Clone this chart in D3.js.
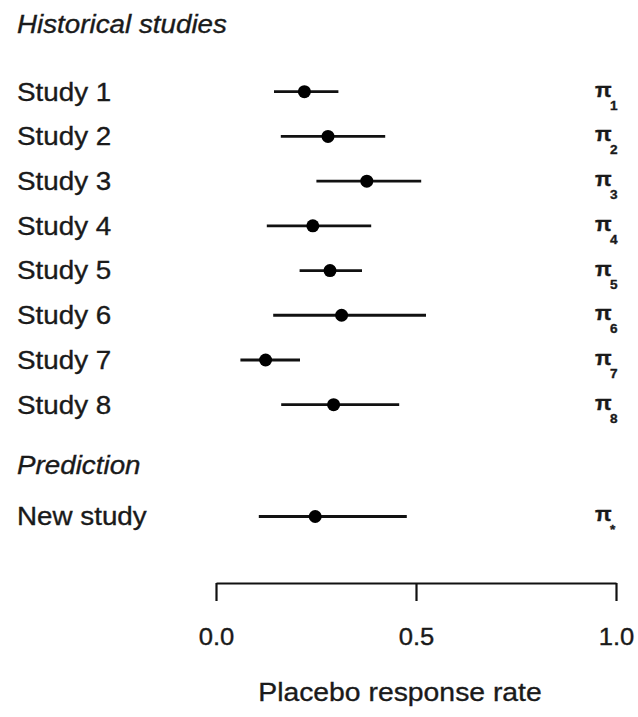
<!DOCTYPE html>
<html>
<head>
<meta charset="utf-8">
<script src="https://cdn.jsdelivr.net/npm/d3@7"></script>
<style>
  html, body { margin: 0; padding: 0; background: #fff; }
  svg text { font-family: "Liberation Sans", Arial, sans-serif; fill: #1a1a1a; stroke: #1a1a1a; stroke-width: 0.35; }
</style>
</head>
<body>
<svg id="forest"></svg>
<script>
// --- data ---
const studies = ["Study 1", "Study 2", "Study 3", "Study 4", "Study 5", "Study 6", "Study 7", "Study 8"];
const estimates = [0.221, 0.280, 0.377, 0.242, 0.285, 0.314, 0.124, 0.294];
const lower = [0.145, 0.162, 0.251, 0.127, 0.209, 0.143, 0.061, 0.163];
const upper = [0.306, 0.423, 0.513, 0.388, 0.365, 0.525, 0.210, 0.458];
const subscripts = ["1", "2", "3", "4", "5", "6", "7", "8"];

const newStudy = "New study";
const newEstimate = 0.248;
const newLower = 0.107;
const newUpper = 0.477;
const newSubscript = "*";

const xTicks = [0, 0.5, 1];

// --- layout ---
const width = 638;
const height = 717;
const stretch = 1.09; // text in the picture is a bit wider than tall

const svg = d3.select("#forest")
    .attr("width", width)
    .attr("height", height)
    .attr("viewBox", [0, 0, width, height]);

const x = d3.scaleLinear().domain([0, 1]).range([216, 616]);
// row index -> vertical position
const y = d3.scaleLinear().domain([0, 7]).range([91.7, 404.7]);

const rows = studies.map((s, i) => ({
    label: s, est: estimates[i], lo: lower[i], hi: upper[i], sub: subscripts[i], row: i
}));
rows.push({ label: newStudy, est: newEstimate, lo: newLower, hi: newUpper, sub: newSubscript, row: 9.5 });

function addText(g, tx, ty, txt, size, opts = {}) {
    return g.append("text")
        .attr("transform", `translate(${tx},${ty}) scale(${stretch},1)`)
        .attr("text-anchor", opts.anchor || "start")
        .attr("font-size", size)
        .attr("font-style", opts.italic ? "italic" : null)
        .attr("font-weight", opts.bold ? "bold" : null)
        .text(txt);
}

// headers
addText(svg, 17, y(-1.5) + 8.5, "Historical studies", 25.5, { italic: true });
addText(svg, 17, y(8.35) + 8.5, "Prediction", 25.5, { italic: true });

// rows
const rowG = svg.append("g").selectAll("g")
    .data(rows)
    .join("g");

rowG.each(function(d) {
    const g = d3.select(this);
    addText(g, 17, y(d.row) + 8.8, d.label, 25.5);

    g.append("line")
        .attr("x1", x(d.lo))
        .attr("x2", x(d.hi))
        .attr("y1", y(d.row))
        .attr("y2", y(d.row))
        .attr("stroke", "#111")
        .attr("stroke-width", 2.8);

    g.append("circle")
        .attr("cx", x(d.est))
        .attr("cy", y(d.row))
        .attr("r", 6.5)
        .attr("fill", "#000");

    // pi labels with subscript
    addText(g, 595, y(d.row) + 5, "\u03C0", 20, { bold: true });
    addText(g, 610, y(d.row) + 18, d.sub, 12.5, { bold: true });
});

// x axis
const axis = d3.axisBottom(x)
    .tickValues(xTicks)
    .tickFormat(d3.format(".1f"))
    .tickSizeInner(18)
    .tickSizeOuter(0)
    .tickPadding(27);

const axisG = svg.append("g")
    .attr("transform", "translate(0,583)")
    .call(axis);

axisG.select(".domain").attr("stroke", "#111").attr("stroke-width", 2.2);
axisG.selectAll(".tick line").attr("stroke", "#111").attr("stroke-width", 2.2);
axisG.selectAll(".tick text")
    .attr("font-family", "Liberation Sans, Arial, sans-serif")
    .attr("font-size", 23.5)
    .attr("fill", "#1a1a1a")
    .attr("transform", `scale(${stretch},1)`)
    .attr("x", 0);

// axis title
addText(svg, 400, 701, "Placebo response rate", 26, { anchor: "middle" });
</script>
</body>
</html>
